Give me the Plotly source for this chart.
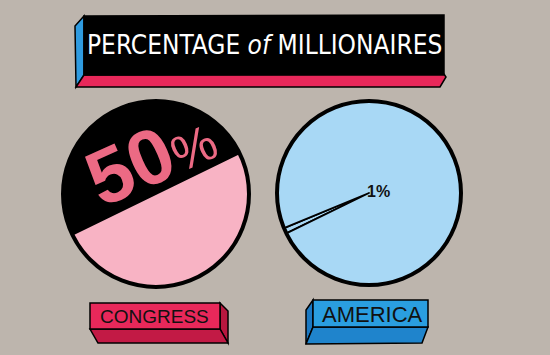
import plotly.graph_objects as go

# ---- data ----
groups = ["CONGRESS", "AMERICA"]
millionaire_pct = [50, 1]
slice_labels = ["Millionaires", "Others"]
title_text = "PERCENTAGE <i>of</i> MILLIONAIRES"

BG = "#bdb5ad"
fig = go.Figure()

# pies
pie_colors = [["#000000", "#f8b3c4"], ["#a8d8f5", "#a8d8f5"]]
domains = [
    dict(x=[63 / 550, 249 / 550], y=[1 - 287 / 355, 1 - 101 / 355]),
    dict(x=[277 / 550, 461 / 550], y=[1 - 285 / 355, 1 - 101 / 355]),
]
W, H = 550, 355
shapes = []
for i, g in enumerate(groups):
    v = millionaire_pct[i]
    d = domains[i]
    fig.add_trace(go.Pie(
        labels=slice_labels, values=[v, 100 - v], sort=False,
        direction="clockwise", rotation=244,
        marker=dict(colors=pie_colors[i], line=dict(color="#000000", width=1.8)),
        textinfo="none", hoverinfo="label+percent", showlegend=False,
        domain=d, name=g,
    ))
    # thick outline around each pie, derived from its domain
    cx = (d["x"][0] + d["x"][1]) / 2 * W
    cy = (1 - (d["y"][0] + d["y"][1]) / 2) * H
    r = min((d["x"][1] - d["x"][0]) * W, (d["y"][1] - d["y"][0]) * H) / 2
    shapes.append(dict(type="circle", xref="x", yref="y", x0=cx - r, x1=cx + r,
                       y0=cy - r, y1=cy + r, line=dict(color="#000000", width=4),
                       layer="above"))

# hidden pixel-space axes for decorations
fig.update_xaxes(range=[0, W], visible=False, fixedrange=True)
fig.update_yaxes(range=[H, 0], visible=False, fixedrange=True)

def poly(pts, fill, lw=1.5):
    p = "M " + " L ".join(f"{x},{y}" for x, y in pts) + " Z"
    shapes.append(dict(type="path", path=p, xref="x", yref="y", fillcolor=fill,
                       line=dict(color="#000000", width=lw), layer="above"))

# title banner
poly([(75, 26), (84, 16), (84, 75), (76, 87)], "#2f9be0")
poly([(84, 75), (444, 74), (446, 77), (440, 87), (76, 87)], "#e8285a")
poly([(84, 16), (444, 15), (444, 75), (84, 75)], "#000000")

# CONGRESS block
poly([(220, 303), (228, 311), (228, 343), (220, 329)], "#b8173f")
poly([(90, 329), (220, 329), (228, 343), (98, 343)], "#c21a45")
poly([(90, 303), (220, 303), (220, 329), (90, 329)], "#e8285a")
# AMERICA block
poly([(313, 300), (306, 310), (306, 344), (313, 327)], "#1a78c2")
poly([(313, 327), (428, 327), (422, 343), (306, 344)], "#1f84cc")
poly([(313, 300), (428, 300), (428, 327), (313, 327)], "#2a9ee0")
fig.update_layout(shapes=shapes)

annotations = [
    dict(x=264, y=45, text=title_text, showarrow=False, xref="x", yref="y",
         font=dict(family="Liberation Sans Narrow, DejaVu Sans Condensed, Liberation Sans", size=26, color="#ffffff")),
    dict(x=150, y=157,
         text=f"<b>{millionaire_pct[0]}</b><span style='font-size:50px'>%</span>",
         showarrow=False, xref="x", yref="y", textangle=-24,
         font=dict(family="Liberation Sans, Arial", size=78, color="#ec6a84")),
    dict(x=378, y=191, text=f"<b>{millionaire_pct[1]}%</b>", showarrow=False, xref="x", yref="y",
         font=dict(family="Liberation Sans", size=16, color="#111111")),
    dict(x=154, y=316, text=groups[0], showarrow=False, xref="x", yref="y",
         font=dict(family="Liberation Sans", size=19, color="#111111")),
    dict(x=372, y=314, text=groups[1], showarrow=False, xref="x", yref="y",
         font=dict(family="Liberation Sans", size=22, color="#111111")),
]
fig.update_layout(
    annotations=annotations,
    width=W, height=H, margin=dict(l=0, r=0, t=0, b=0),
    paper_bgcolor=BG, plot_bgcolor=BG,
)
fig.write_html("out.html")
